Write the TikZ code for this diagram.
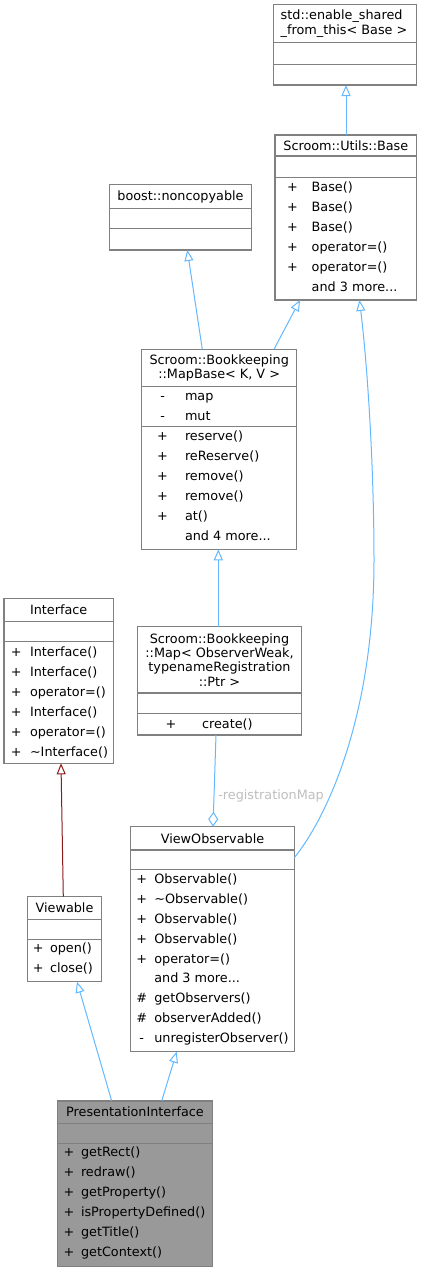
\documentclass[tikz,border=0pt]{standalone}
\usepackage{fontspec}
\setmainfont{DejaVu Sans}
\usetikzlibrary{arrows.meta}
\definecolor{edgeblue}{HTML}{63B8FF}
\definecolor{edgered}{HTML}{8B1A1A}
\definecolor{boxgray}{HTML}{808080}
\definecolor{labelgray}{HTML}{BEBEBE}
\definecolor{hlfill}{HTML}{999999}
% #1 fill, #2 name, #3 x1, #4 x2, #5 ytop, #6 sep1, #7 sep2, #8 ybot
\newcommand{\umlbox}[8][white]{%
  \node[cbox, fill=#1, minimum width={(#4-#3)*1pt}, minimum height={(#8-#5)*1pt}] (#2) at (#3,#5) {};
  \draw[sepline] (#2.west |- 0,#6) -- (#2.east |- 0,#6);
  \draw[sepline] (#2.west |- 0,#7) -- (#2.east |- 0,#7);
}
% #1 node name, #2 y centre, #3 vis x, #4 vis, #5 name x, #6 text
\newcommand{\umlrow}[6]{%
  \node[vis] (#1v) at (#3,#2+4.3) {#4};
  \node[txt] (#1) at (#5,#2+4.3) {#6};
}
\begin{document}
\begin{tikzpicture}[x=1pt,y=-1pt,
  font=\fontsize{12.8}{14.3}\selectfont,
  cbox/.style={draw=boxgray, line width=1.3pt, inner sep=0pt, outer sep=0pt, fill=white, anchor=north west},
  sepline/.style={draw=boxgray, line width=1.3pt},
  txt/.style={inner sep=0pt, outer sep=0pt, anchor=base west},
  vis/.style={inner sep=0pt, outer sep=0pt, anchor=base},
  ttl/.style={inner sep=0pt, outer sep=0pt, align=center, anchor=center},
  inh/.style={draw=edgeblue, line width=1pt, -{Triangle[length=11pt, width=9pt, fill=white]}},
  inhred/.style={draw=edgered, line width=1pt, -{Triangle[length=11pt, width=9pt, fill=white]}},
  agg/.style={draw=edgeblue, line width=1pt, -{Diamond[length=15pt, width=10pt, fill=white]}},
  lbl/.style={inner sep=0pt, outer sep=0pt, text=labelgray, anchor=base west}
]
\useasboundingbox (0,0) rectangle (424,1272);

% std::enable_shared_from_this
\umlbox{E}{273.3}{416.7}{4.7}{42.7}{64.3}{85}
\node[ttl, align=left, anchor=west] (Et) at (280.7,23.7) {std::enable\_shared\\\_from\_this< Base >};

% Scroom::Utils::Base
\umlbox{U}{275}{416.7}{135}{156}{177.3}{300}
\node[ttl] (Ut) at (345.8,145.5) {Scroom::Utils::Base};
\umlrow{U1}{186.7}{292.5}{+}{311.7}{Base()}
\umlrow{U2}{206.7}{292.5}{+}{311.7}{Base()}
\umlrow{U3}{226.7}{292.5}{+}{311.7}{Base()}
\umlrow{U4}{246.7}{292.5}{+}{311.7}{operator=()}
\umlrow{U5}{266.7}{292.5}{+}{311.7}{operator=()}
\umlrow{U6}{286.7}{292.5}{}{311.7}{and 3 more...}

% boost::noncopyable
\umlbox{N}{109.3}{251.7}{184.7}{208.3}{228.3}{250}
\node[ttl] (Nt) at (180.5,196.5) {boost::noncopyable};

% MapBase
\umlbox{MB}{141.7}{296.7}{349.3}{386.7}{426.7}{549.3}
\node[ttl] (MBt) at (219.2,368) {Scroom::Bookkeeping\\::MapBase< K, V >};
\umlrow{MB1}{396}{162.6}{-}{185}{map}
\umlrow{MB2}{415.7}{162.6}{-}{185}{mut}
\umlrow{MB3}{435.7}{162.6}{+}{185}{reserve()}
\umlrow{MB4}{455.7}{162.6}{+}{185}{reReserve()}
\umlrow{MB5}{475.7}{162.6}{+}{185}{remove()}
\umlrow{MB6}{495.7}{162.6}{+}{185}{remove()}
\umlrow{MB7}{515.7}{162.6}{+}{185}{at()}
\umlrow{MB8}{535.7}{162.6}{}{185}{and 4 more...}

% Interface
\umlbox{I}{4}{113.3}{598.3}{621.7}{641.7}{763.3}
\node[ttl] (It) at (58.7,610) {Interface};
\umlrow{I1}{651.7}{16.3}{+}{30}{Interface()}
\umlrow{I2}{671.7}{16.3}{+}{30}{Interface()}
\umlrow{I3}{691.7}{16.3}{+}{30}{operator=()}
\umlrow{I4}{711.7}{16.3}{+}{30}{Interface()}
\umlrow{I5}{731.7}{16.3}{+}{30}{operator=()}
\umlrow{I6}{751.7}{16.3}{+}{30}{\textasciitilde Interface()}

% Map
\umlbox{M}{137.3}{301.7}{626.7}{693}{713.5}{735}
\node[ttl] (Mt) at (219.5,659.9) {Scroom::Bookkeeping\\::Map< ObserverWeak,\\typenameRegistration\\::Ptr >};
\umlrow{M1}{724}{171}{+}{202}{create()}

% ViewObservable
\umlbox{VO}{130.7}{294.3}{826.7}{850}{869.3}{1051.7}
\node[ttl] (VOt) at (212.5,838.3) {ViewObservable};
\umlrow{VO1}{879}{141.7}{+}{154.3}{Observable()}
\umlrow{VO2}{898.9}{141.7}{+}{154.3}{\textasciitilde Observable()}
\umlrow{VO3}{918.8}{141.7}{+}{154.3}{Observable()}
\umlrow{VO4}{938.8}{141.7}{+}{154.3}{Observable()}
\umlrow{VO5}{958.7}{141.7}{+}{154.3}{operator=()}
\umlrow{VO6}{978.6}{141.7}{}{154.3}{and 3 more...}
\umlrow{VO7}{998.5}{141.7}{\#}{154.3}{getObservers()}
\umlrow{VO8}{1018.4}{141.7}{\#}{154.3}{observerAdded()}
\umlrow{VO9}{1038.3}{141.7}{-}{154.3}{unregisterObserver()}

% Viewable
\umlbox{V}{27.3}{101.7}{896.7}{919.3}{939.3}{981.7}
\node[ttl] (Vt) at (64.5,908) {Viewable};
\umlrow{V1}{948.3}{38.3}{+}{50}{open()}
\umlrow{V2}{968.3}{38.3}{+}{50}{close()}

% PresentationInterface
\umlbox[hlfill]{P}{57.3}{212.7}{1101}{1123.3}{1143.3}{1266.7}
\node[ttl] (Pt) at (135,1112) {PresentationInterface};
\umlrow{P1}{1152}{69}{+}{81}{getRect()}
\umlrow{P2}{1172}{69}{+}{81}{redraw()}
\umlrow{P3}{1192}{69}{+}{81}{getProperty()}
\umlrow{P4}{1212}{69}{+}{81}{isPropertyDefined()}
\umlrow{P5}{1232}{69}{+}{81}{getTitle()}
\umlrow{P6}{1252}{69}{+}{81}{getContext()}

% connectors
\draw[inh] (U.north -| 346,0) -- (E.south -| 346,0);
\draw[inh] (MB.north -| 202.3,0) -- (N.south -| 187.3,0);
\draw[inh] (MB.north -| 274,0) -- (U.south -| 300,0);
\draw[inh] (M.north -| 218.3,0) -- (MB.south -| 218.3,0);
\draw[agg] (M.south -| 216,0) -- (VO.north -| 213,0);
\node[lbl] (lab) at (218.3,799) {-registrationMap};
\draw[inh] (VO.east |- 0,857.7) .. controls (325,820) and (374,720) .. (374,560)
           .. controls (374,480) and (369,380) .. (U.south -| 359.5,0);
\draw[inhred] (V.north -| 63.3,0) -- (I.south -| 61,0);
\draw[inh] (P.north -| 111.7,0) -- (V.south -| 77,0);
\draw[inh] (P.north -| 161.7,0) -- (VO.south -| 176.7,0);
\end{tikzpicture}
\end{document}
